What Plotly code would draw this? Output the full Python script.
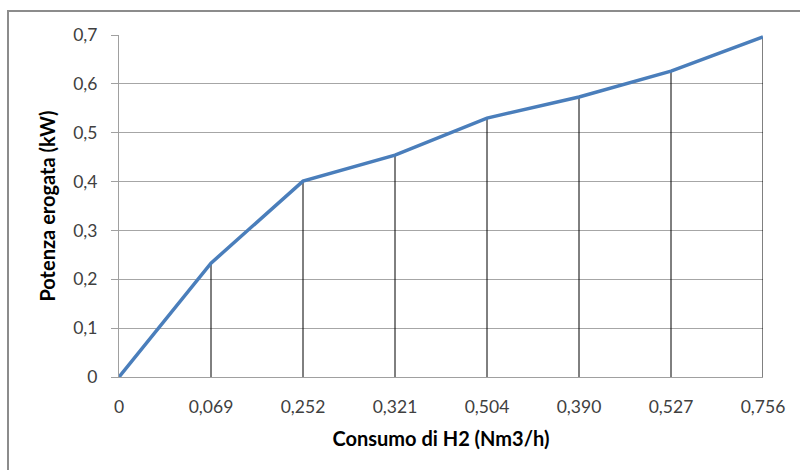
import plotly.graph_objects as go

categories = ["0", "0,069", "0,252", "0,321", "0,504", "0,390", "0,527", "0,756"]
power_kw = [0.0, 0.233, 0.401, 0.454, 0.530, 0.573, 0.626, 0.696]
y_ticks = [0, 0.1, 0.2, 0.3, 0.4, 0.5, 0.6, 0.7]
y_tick_labels = ["0", "0,1", "0,2", "0,3", "0,4", "0,5", "0,6", "0,7"]

fig = go.Figure()

# drop lines
fig.add_trace(go.Scatter(
    x=categories, y=power_kw, mode="markers",
    marker=dict(size=0.1, color="rgba(0,0,0,0)"),
    error_y=dict(type="data", symmetric=False, array=[0]*len(power_kw),
                 arrayminus=power_kw, color="black", thickness=1, width=0),
    hoverinfo="skip", showlegend=False,
))

fig.add_trace(go.Scatter(
    x=categories, y=power_kw, mode="lines",
    line=dict(color="#4A7EBB", width=3.5),
    showlegend=False,
))

L, R, T, B = 119, 37, 35, 93
W, H = 800, 470
pw, ph = W - L - R, H - T - B

fig.add_shape(type="rect", xref="paper", yref="paper",
              x0=(8 - L) / pw, x1=(803 - L) / pw,
              y0=(H - B - 475) / ph, y1=(H - B - 11) / ph,
              line=dict(color="#8C8C8C", width=2), fillcolor="rgba(0,0,0,0)", layer="below")

font_family = "Lato, Open Sans, sans-serif"

fig.update_layout(
    width=W, height=H,
    margin=dict(l=L, r=R, t=T, b=B),
    paper_bgcolor="white", plot_bgcolor="white",
    font=dict(family=font_family, color="#404040", size=17),
    xaxis=dict(
        type="category", range=[0, len(categories) - 1],
        showgrid=False, showline=True, linecolor="#A0A0A0", linewidth=1,
        ticks="", tickfont=dict(size=17.5, color="#404040"),
        ticklabelstandoff=14,
        title=dict(text="<b>Consumo di H2 (Nm3/h)</b>", font=dict(size=20, color="#000000"), standoff=15),
        zeroline=False,
    ),
    yaxis=dict(
        range=[0, 0.7], tickvals=y_ticks, ticktext=y_tick_labels,
        showgrid=True, gridcolor="#A6A6A6", gridwidth=1,
        showline=True, linecolor="#A0A0A0", linewidth=1,
        ticks="outside", ticklen=7, tickcolor="#A0A0A0",
        tickfont=dict(size=17.5, color="#404040"),
        ticklabelstandoff=10,
        title=dict(text="<b>Potenza erogata (kW)</b>", font=dict(size=20, color="#000000"), standoff=12),
        zeroline=False,
    ),
)

fig.write_html("out.html")
